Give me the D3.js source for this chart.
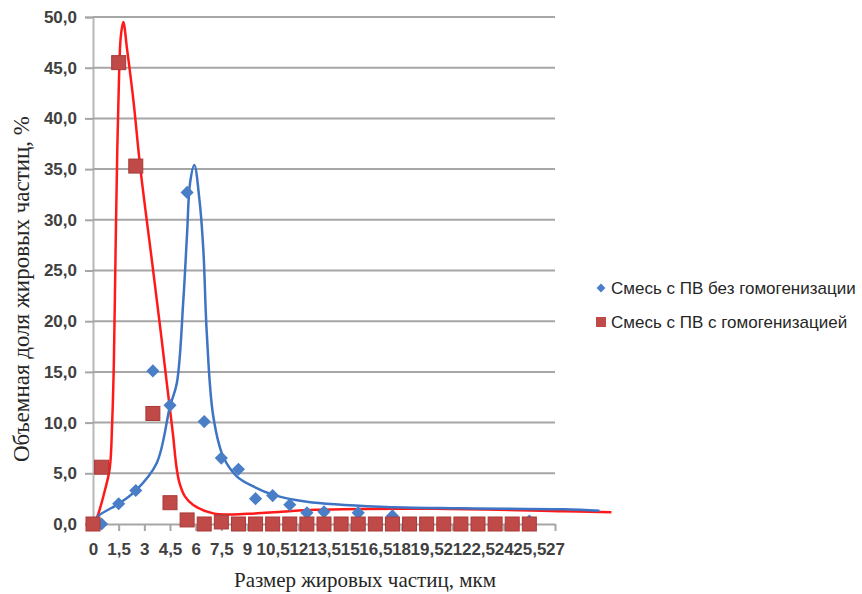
<!DOCTYPE html>
<html>

<head>
    <meta charset="utf-8">
    <script src="https://d3js.org/d3.v7.min.js"></script>
</head>

<body style="margin: 0; background: #fff">

    <svg id="chart"></svg>

    <script>

        // measured points (size in mkm, volume share in %)
        const sizesRed = [0, 0.5, 1.5, 2.5, 3.5, 4.5, 5.5, 6.5, 7.5, 8.5, 9.5, 10.5, 11.5, 12.5, 13.5, 14.5, 15.5, 16.5, 17.5, 18.5, 19.5, 20.5, 21.5, 22.5, 23.5, 24.5, 25.5]
        const valuesRed = [0, 5.6, 45.5, 35.3, 10.9, 2.1, 0.4, 0, 0.2, 0, 0, 0, 0, 0, 0, 0, 0, 0, 0, 0, 0, 0, 0, 0, 0, 0, 0]

        const sizesBlue = [0.5, 1.5, 2.5, 3.5, 4.5, 5.5, 6.5, 7.5, 8.5, 9.5, 10.5, 11.5, 12.5, 13.5, 14.5, 15.5, 16.5, 17.5, 18.5, 19.5, 20.5, 21.5, 22.5, 23.5, 24.5, 25.5]
        const valuesBlue = [0, 2.0, 3.3, 15.1, 11.7, 32.7, 10.1, 6.5, 5.4, 2.5, 2.8, 1.9, 1.1, 1.2, 0, 1.1, 0, 0.8, 0, 0, 0, 0, 0, 0, 0, 0.3]

        // smoothed curves
        const curveRed = [[0.15, 0.3], [0.31, 1.0], [0.7, 3.35], [0.98, 5.5], [1.12, 10], [1.22, 16], [1.32, 27], [1.42, 37],
            [1.52, 44], [1.62, 48], [1.77, 49.5], [2.0, 46.7], [2.36, 41.8], [2.76, 35.2], [3.5, 25.2], [3.97, 18.8],
            [4.32, 13.8], [4.67, 8.9], [4.88, 5.6], [5.06, 4.0], [5.38, 2.7], [5.86, 1.87], [7.03, 1.05], [9.0, 1.0],
            [11.0, 1.2], [13.0, 1.4], [20.0, 1.5], [27.5, 1.25], [30.3, 1.15]]

        const curveBlue = [[0.05, 0.2], [0.31, 0.8], [1.5, 2.0], [2.5, 3.3], [3.72, 6.0], [4.5, 11.6], [4.9, 13.9], [5.28, 22.1],
            [5.5, 28.7], [5.67, 33.6], [5.92, 35.4], [6.22, 32.0], [6.45, 27.0], [6.65, 18.8], [7.03, 10.6],
            [7.62, 6.6], [8.4, 4.7], [9.37, 3.7], [10.5, 2.9], [12.5, 2.2], [16.8, 1.7], [21.5, 1.55], [27.5, 1.45], [29.6, 1.3]]

        const xTicks = [0, 1.5, 3, 4.5, 6, 7.5, 9, 10.5, 12, 13.5, 15, 16.5, 18, 19.5, 21, 22.5, 24, 25.5, 27]
        const yTicks = [0, 5, 10, 15, 20, 25, 30, 35, 40, 45, 50]

        const seriesNames = ["Смесь с ПВ без гомогенизации", "Смесь с ПВ с гомогенизацией"]

        var width = 862, height = 594

        var svg = d3.select("#chart")
            .attr("width", width)
            .attr("height", height)

        var x = d3.scaleLinear().domain([0, 27]).range([93, 555])
        var y = d3.scaleLinear().domain([0, 50]).range([524, 17])

        const comma = d => String(d).replace(".", ",")

        // gridlines + y axis
        var yAxis = svg.append("g")
            .attr("transform", "translate(93,0)")
            .call(d3.axisLeft(y).tickValues(yTicks).tickSize(8).tickFormat(d => d.toFixed(1).replace(".", ",")))
        yAxis.select(".domain").attr("stroke", "#b8b8b8").attr("stroke-width", 2)
        yAxis.selectAll(".tick line").attr("stroke", "#a6a6a6").attr("stroke-width", 2)
        yAxis.selectAll(".tick text")
            .attr("x", -16)
            .style("font-family", "Liberation Sans, Arial")
            .style("font-size", "17px")
            .style("font-weight", "bold")
            .attr("fill", "#404040")

        svg.append("g")
            .selectAll("line")
            .data(yTicks.filter(d => d > 0))
            .join("line")
            .attr("x1", 93).attr("x2", 555)
            .attr("y1", d => y(d)).attr("y2", d => y(d))
            .attr("stroke", "#a6a6a6")
            .attr("stroke-width", 2)

        var xAxis = svg.append("g")
            .attr("transform", "translate(0,524)")
            .call(d3.axisBottom(x).tickValues(xTicks).tickSize(7).tickSizeOuter(0).tickFormat(comma))
        xAxis.select(".domain").attr("stroke", "#a6a6a6").attr("stroke-width", 2)
        xAxis.selectAll(".tick line").attr("stroke", "#a6a6a6").attr("stroke-width", 2)
        xAxis.selectAll(".tick text")
            .attr("y", 19)
            .style("font-family", "Liberation Sans, Arial")
            .style("font-size", "17px")
            .style("font-weight", "bold")
            .attr("fill", "#404040")

        // curves
        var line = d3.line()
            .x(d => x(d[0]))
            .y(d => y(d[1]))
            .curve(d3.curveCatmullRom.alpha(0.5))

        svg.append("path")
            .attr("d", line(curveRed))
            .attr("fill", "none")
            .attr("stroke", "#ff1a1a")
            .attr("stroke-width", 2.5)

        svg.append("path")
            .attr("d", line(curveBlue))
            .attr("fill", "none")
            .attr("stroke", "#3d74c4")
            .attr("stroke-width", 2.5)

        // markers
        svg.append("g")
            .selectAll("path")
            .data(d3.zip(sizesBlue, valuesBlue))
            .join("path")
            .attr("d", d3.symbol(d3.symbolDiamond2, 110))
            .attr("transform", d => "translate(" + x(d[0]) + "," + y(d[1]) + ")")
            .attr("fill", "#4a7ec6")

        svg.append("g")
            .selectAll("rect")
            .data(d3.zip(sizesRed, valuesRed))
            .join("rect")
            .attr("x", d => x(d[0]) - 7)
            .attr("y", d => y(d[1]) - 7)
            .attr("width", 14).attr("height", 14)
            .attr("fill", "#bf4a48")
            .attr("stroke", "#a83a38")
            .attr("stroke-width", 1)

        // legend
        var legend = svg.append("g").attr("transform", "translate(601,288)")
        legend.append("path")
            .attr("d", d3.symbol(d3.symbolDiamond2, 50))
            .attr("fill", "#4a7ec6")
        legend.append("rect")
            .attr("x", -5).attr("y", 29).attr("width", 10).attr("height", 10)
            .attr("fill", "#bf4a48")
        legend.selectAll("text")
            .data(seriesNames)
            .join("text")
            .attr("x", 10)
            .attr("y", (d, i) => i * 34)
            .attr("dy", "0.35em")
            .text(d => d)
            .style("font-family", "Liberation Sans, Arial")
            .style("font-size", "17px")
            .attr("fill", "#262626")

        // axis titles
        svg.append("text")
            .attr("x", 365).attr("y", 587)
            .attr("text-anchor", "middle")
            .text("Размер жировых частиц, мкм")
            .style("font-family", "Liberation Serif, Times New Roman")
            .style("font-size", "21px")
            .attr("fill", "#262626")

        svg.append("text")
            .attr("transform", "translate(29,289) rotate(-90)")
            .attr("text-anchor", "middle")
            .text("Объемная доля жировых частиц, %")
            .style("font-family", "Liberation Serif, Times New Roman")
            .style("font-size", "23px")
            .attr("fill", "#262626")

    </script>
</body>

</html>
